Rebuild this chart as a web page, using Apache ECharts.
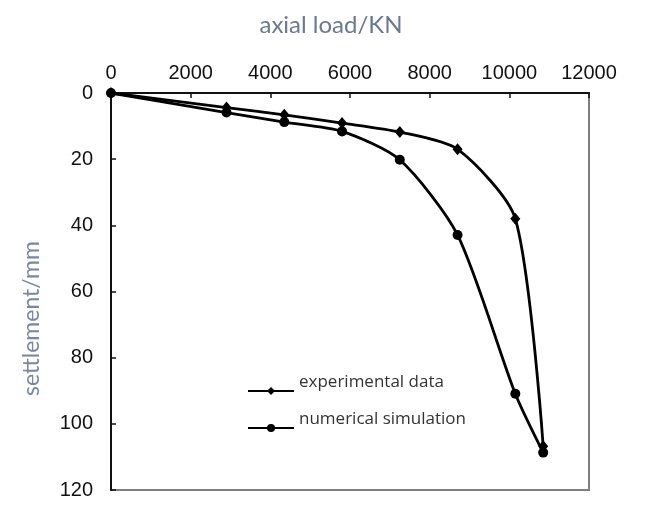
<!DOCTYPE html>
<html>
<head>
<meta charset="utf-8">
<script src="https://cdn.jsdelivr.net/npm/echarts@6/dist/echarts.min.js"></script>
<style>
html, body { margin: 0; padding: 0; background: #fff; }
#chart { width: 660px; height: 512px; }
</style>
</head>
<body>
<div id="chart"></div>
<script>
// axial load at each loading step (kN)
var loadSteps = [0, 2900, 4350, 5800, 7250, 8700, 10150, 10850];
// settlement (mm)
var expSettlement = [0, 4.4, 6.6, 9.1, 11.8, 17.0, 38.0, 106.8];
var numSettlement = [0, 5.9, 8.8, 11.6, 20.2, 42.9, 90.9, 108.7];
var seriesNames = ['experimental data', 'numerical simulation'];

var toPairs = function(ys) {
	return loadSteps.map(function(x, i) { return [x, ys[i]]; });
};

var tickFont = 'Liberation Sans, sans-serif';
var titleFont = 'Lato, Open Sans, sans-serif';

var myChart = echarts.init(document.getElementById('chart'), null, {renderer: 'canvas'});
var option = {
	animation: false,
	backgroundColor: '#fff',
	grid: {
		left: 111, right: 71, top: 93, bottom: 22,
		show: true,
		borderColor: '#7f7f7f',
		borderWidth: 2
	},
	legend: {
		data: seriesNames,
		orient: 'vertical',
		left: 247,
		top: 373,
		padding: 0,
		itemWidth: 46,
		itemHeight: 10,
		itemGap: 1,
		// second empty line lifts the label above the line icon, as in the source
		formatter: function(name) { return name + '\n '; },
		textStyle: {
			fontFamily: 'Open Sans, sans-serif',
			fontSize: 17,
			lineHeight: 18,
			color: '#333'
		}
	},
	xAxis: {
		type: 'value',
		position: 'top',
		min: 0, max: 12000, interval: 2000,
		name: 'axial load/KN',
		nameLocation: 'middle',
		nameGap: 56,
		nameTextStyle: {
			fontFamily: titleFont, fontSize: 24, color: '#6b7891',
			padding: [0, 38, 0, 0]
		},
		axisLine: {show: true, onZero: false, lineStyle: {color: '#111', width: 2}},
		axisTick: {show: true, inside: true, length: 5, lineStyle: {color: '#111', width: 1.5}},
		axisLabel: {
			margin: 10, fontFamily: tickFont, fontSize: 20, color: '#111',
			formatter: function(v) { return String(v); }
		},
		splitLine: {show: false}
	},
	yAxis: {
		type: 'value',
		inverse: true,
		min: 0, max: 120, interval: 20,
		name: 'settlement/mm',
		nameLocation: 'middle',
		nameRotate: 90,
		nameGap: 68,
		nameTextStyle: {
			fontFamily: titleFont, fontSize: 23, color: '#7a87a0',
			padding: [0, 54, 0, 0]
		},
		axisLine: {show: true, onZero: false, lineStyle: {color: '#111', width: 2}},
		axisTick: {show: true, inside: true, length: 5, lineStyle: {color: '#111', width: 1.5}},
		axisLabel: {margin: 18, fontFamily: tickFont, fontSize: 20, color: '#111'},
		splitLine: {show: false}
	},
	series: [
		{
			name: seriesNames[0],
			type: 'line',
			smooth: 0.25,
			data: toPairs(expSettlement),
			symbol: 'diamond',
			symbolSize: [10, 12],
			lineStyle: {color: '#000', width: 2.8},
			itemStyle: {color: '#000'}
		},
		{
			name: seriesNames[1],
			type: 'line',
			smooth: 0.25,
			data: toPairs(numSettlement),
			symbol: 'circle',
			symbolSize: 10,
			lineStyle: {color: '#000', width: 2.8},
			itemStyle: {color: '#000'}
		}
	]
};
myChart.setOption(option);
</script>
</body>
</html>
